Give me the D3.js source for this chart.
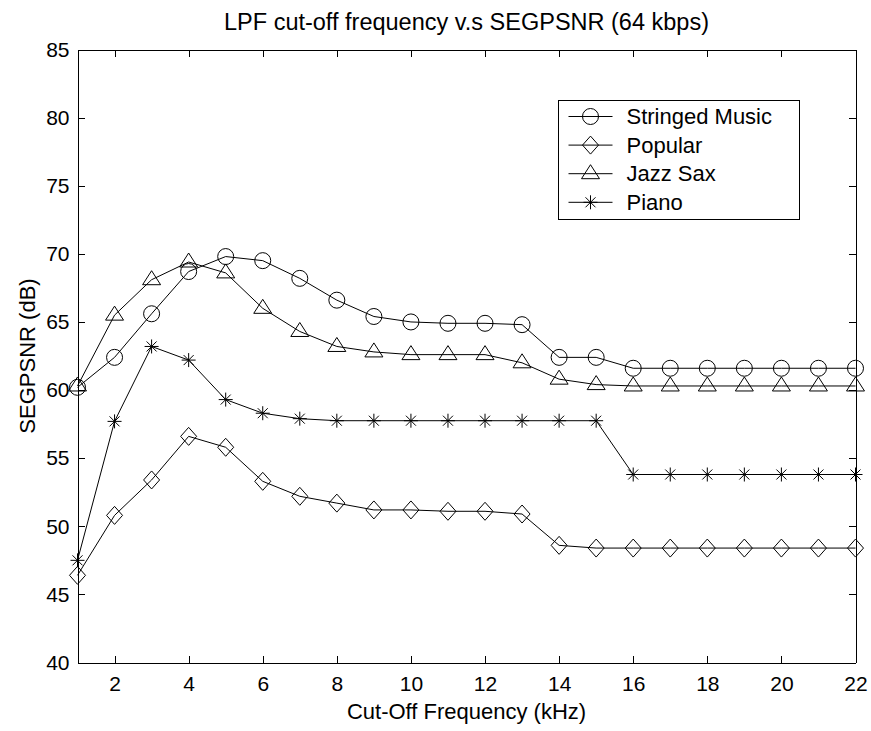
<!DOCTYPE html>
<meta charset="utf-8">
<style>
    body {
        margin: 0;
        background-color: #fff;
    }
    text {
        font-family: "Liberation Sans", Arial, sans-serif;
        fill: #000;
    }
    .axis path,
    .axis line {
        fill: none;
        stroke: #000;
        stroke-width: 1px;
        shape-rendering: crispEdges;
    }
    .line {
        fill: none;
        stroke: #000;
        stroke-width: 1px;
    }
    .marker {
        fill: none;
        stroke: #000;
        stroke-width: 1px;
    }
</style>
<body>
<svg width="871" height="731"></svg>
<script src="https://d3js.org/d3.v7.min.js"></script>
<script>
    // data
    var freq = [1, 2, 3, 4, 5, 6, 7, 8, 9, 10, 11, 12, 13, 14, 15, 16, 17, 18, 19, 20, 21, 22];
    var stringed = [60.2, 62.4, 65.6, 68.7, 69.8, 69.5, 68.2, 66.6, 65.4, 65.0, 64.9, 64.9, 64.8, 62.4, 62.4, 61.6, 61.6, 61.6, 61.6, 61.6, 61.6, 61.6];
    var popular = [46.4, 50.8, 53.4, 56.6, 55.8, 53.3, 52.2, 51.7, 51.2, 51.2, 51.1, 51.1, 50.9, 48.6, 48.4, 48.4, 48.4, 48.4, 48.4, 48.4, 48.4, 48.4];
    var jazzSax = [60.3, 65.5, 68.1, 69.4, 68.6, 66.0, 64.3, 63.2, 62.8, 62.6, 62.6, 62.6, 62.0, 60.8, 60.4, 60.3, 60.3, 60.3, 60.3, 60.3, 60.3, 60.3];
    var piano = [47.5, 57.7, 63.2, 62.2, 59.3, 58.3, 57.9, 57.75, 57.75, 57.75, 57.75, 57.75, 57.75, 57.75, 57.75, 53.8, 53.8, 53.8, 53.8, 53.8, 53.8, 53.8];
    var seriesNames = ["Stringed Music", "Popular", "Jazz Sax", "Piano"];
    var xTicks = [2, 4, 6, 8, 10, 12, 14, 16, 18, 20, 22];
    var yTicks = [40, 45, 50, 55, 60, 65, 70, 75, 80, 85];

    var series = [
        {name: seriesNames[0], values: stringed, marker: "circle"},
        {name: seriesNames[1], values: popular, marker: "diamond"},
        {name: seriesNames[2], values: jazzSax, marker: "triangle"},
        {name: seriesNames[3], values: piano, marker: "star"}
    ];

    var markerPath = {
        circle: "M8,0A8,8 0 1,1 -8,0A8,8 0 1,1 8,0Z",
        diamond: "M0,-9L8,0L0,9L-8,0Z",
        triangle: "M0,-9L9,5L-9,5Z",
        star: "M0,-7V7M-7,0H7M-5,-5L5,5M-5,5L5,-5"
    };

    var svg = d3.select("svg"),
        margin = {top: 49.5, left: 77.5},
        width = 778,
        height = 613;

    var x = d3.scaleLinear().domain([1, 22]).range([0, width]);
    var y = d3.scaleLinear().domain([40, 85]).range([height, 0]);

    var g = svg.append("g")
        .attr("transform", "translate(" + margin.left + "," + margin.top + ")");

    // axes, ticks pointing inward on all four sides
    g.append("g")
        .attr("class", "axis")
        .attr("transform", "translate(0," + height + ")")
        .call(d3.axisBottom(x).tickValues(xTicks).tickSizeInner(-7).tickSizeOuter(0).tickPadding(14));
    g.append("g")
        .attr("class", "axis")
        .call(d3.axisTop(x).tickValues(xTicks).tickSizeInner(-7).tickSizeOuter(0).tickFormat(""));
    g.append("g")
        .attr("class", "axis")
        .call(d3.axisLeft(y).tickValues(yTicks).tickSizeInner(-7).tickSizeOuter(0).tickPadding(8));
    g.append("g")
        .attr("class", "axis")
        .attr("transform", "translate(" + width + ",0)")
        .call(d3.axisRight(y).tickValues(yTicks).tickSizeInner(-7).tickSizeOuter(0).tickFormat(""));

    g.selectAll(".axis text")
        .style("font-size", "21px");
    g.selectAll(".axis").attr("font-family", null).attr("font-size", null);

    var line = d3.line()
        .x(function(d, i) { return x(freq[i]); })
        .y(function(d) { return y(d); });

    series.forEach(function(s) {
        g.append("path")
            .datum(s.values)
            .attr("class", "line")
            .attr("d", line);

        g.selectAll(null)
            .data(s.values)
            .enter().append("path")
            .attr("class", "marker")
            .attr("transform", function(d, i) { return "translate(" + x(freq[i]) + "," + y(d) + ")"; })
            .attr("d", markerPath[s.marker]);
    });

    // title and axis labels
    svg.append("text")
        .attr("x", margin.left + width / 2)
        .attr("y", 30)
        .attr("text-anchor", "middle")
        .style("font-size", "23.5px")
        .text("LPF cut-off frequency v.s SEGPSNR (64 kbps)");

    svg.append("text")
        .attr("x", margin.left + width / 2)
        .attr("y", 719)
        .attr("text-anchor", "middle")
        .style("font-size", "22px")
        .text("Cut-Off Frequency (kHz)");

    svg.append("text")
        .attr("transform", "translate(35," + (margin.top + height / 2) + ") rotate(-90)")
        .attr("text-anchor", "middle")
        .style("font-size", "22px")
        .text("SEGPSNR (dB)");

    // legend
    var legend = svg.append("g")
        .attr("transform", "translate(558.5,100.5)");

    legend.append("rect")
        .attr("width", 241)
        .attr("height", 119)
        .attr("fill", "#fff")
        .attr("stroke", "#000")
        .attr("shape-rendering", "crispEdges");

    var item = legend.selectAll(".item")
        .data(series)
        .enter().append("g")
        .attr("class", "item")
        .attr("transform", function(d, i) { return "translate(0," + (16 + i * 28.6) + ")"; });

    item.append("line")
        .attr("x1", 10)
        .attr("x2", 54)
        .attr("stroke", "#000");

    item.append("path")
        .attr("class", "marker")
        .attr("transform", "translate(32,0)")
        .attr("d", function(d) { return markerPath[d.marker]; });

    item.append("text")
        .attr("x", 68)
        .attr("dy", "0.35em")
        .style("font-size", "22px")
        .text(function(d) { return d.name; });
</script>
</body>
